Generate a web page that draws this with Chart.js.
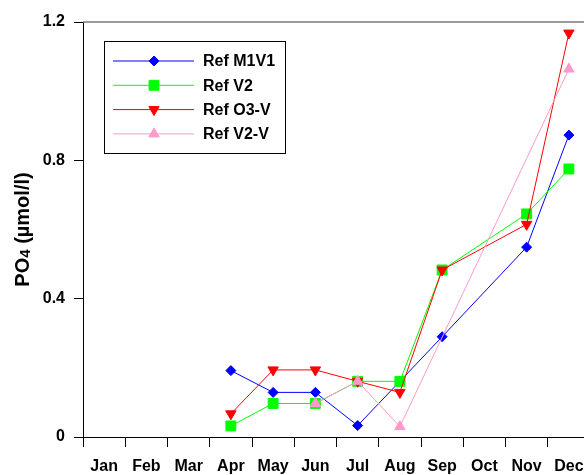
<!DOCTYPE html>
<html>
<head>
<meta charset="utf-8">
<script src="https://cdn.jsdelivr.net/npm/chart.js@4/dist/chart.umd.min.js"></script>
<style>
  html, body { margin: 0; padding: 0; background: #fff; }
  #wrap { width: 584px; height: 475px; overflow: hidden; position: relative; }
  canvas { display: block; }
</style>
</head>
<body>
<div id="wrap"><canvas id="po4Chart" width="600" height="475"></canvas></div>
<script>
// Datos del grafico
const months = ['Jan', 'Feb', 'Mar', 'Apr', 'May', 'Jun', 'Jul', 'Aug', 'Sep', 'Oct', 'Nov', 'Dec'];
const refM1V1 = [null, null, null, 0.192, 0.129, 0.129, 0.033, 0.161, 0.290, null, 0.549, 0.873];
const refV2   = [null, null, null, 0.032, 0.097, 0.097, 0.161, 0.161, 0.483, null, 0.645, 0.775];
const refO3V  = [null, null, null, 0.067, 0.194, 0.194, 0.161, 0.129, 0.483, null, 0.615, 1.168];
const refV2V  = [null, null, null, null, null, 0.097, 0.161, 0.030, null, null, null, 1.064];
const yTicks = [0, 0.4, 0.8, 1.2];
const yTitleMain = 'PO';
const yTitleSub = '4';
const yTitleRest = ' (µmol/l)';

const FONT = '"Liberation Sans", Arial, sans-serif';

function serie(label, data, color, style, radius, rotation, order) {
    return {
        label: label,
        data: data,
        borderColor: color,
        backgroundColor: color,
        borderWidth: 1,
        pointStyle: style,
        pointRadius: radius,
        pointHoverRadius: radius,
        pointRotation: rotation,
        pointBorderWidth: 1,
        spanGaps: true,
        tension: 0,
        order: order
    };
}

// Leyenda dibujada a mano (linea + marcador)
const legendBox = {
    id: 'legendBox',
    afterDraw(chart) {
        const ctx = chart.ctx;
        const list = chart.data.datasets;
        ctx.save();
        ctx.strokeStyle = '#000';
        ctx.lineWidth = 1;
        ctx.strokeRect(104.5, 41.5, 181, 112);
        list.forEach((ds, i) => {
            const y = 61 + i * 24.3;
            ctx.strokeStyle = ds.borderColor;
            ctx.lineWidth = 1;
            ctx.beginPath();
            ctx.moveTo(113, y);
            ctx.lineTo(194, y);
            ctx.stroke();
            ctx.fillStyle = ds.backgroundColor;
            Chart.helpers.drawPoint(ctx, {
                pointStyle: ds.pointStyle,
                rotation: ds.pointRotation,
                radius: ds.pointRadius,
                borderWidth: 1
            }, 154, y);
            ctx.fillStyle = '#000';
            ctx.font = 'bold 16px ' + FONT;
            ctx.textBaseline = 'middle';
            ctx.textAlign = 'left';
            ctx.fillText(ds.label, 203, y + 1);
        });
        ctx.restore();
    }
};

// Marco superior y titulo del eje Y con subindice
const frameAndTitle = {
    id: 'frameAndTitle',
    afterDraw(chart) {
        const ctx = chart.ctx;
        const a = chart.chartArea;
        ctx.save();
        ctx.strokeStyle = '#7a7a7a';
        ctx.lineWidth = 1.5;
        ctx.beginPath();
        ctx.moveTo(a.left, a.top);
        ctx.lineTo(a.right, a.top);
        ctx.stroke();

        const cy = (a.top + a.bottom) / 2;
        ctx.translate(23, cy);
        ctx.rotate(-Math.PI / 2);
        ctx.fillStyle = '#000';
        ctx.textBaseline = 'middle';
        ctx.textAlign = 'left';
        const fMain = 'bold 20px ' + FONT;
        const fSub = 'bold 15px ' + FONT;
        ctx.font = fMain;
        const w1 = ctx.measureText(yTitleMain).width;
        const w3 = ctx.measureText(yTitleRest).width;
        ctx.font = fSub;
        const w2 = ctx.measureText(yTitleSub).width;
        let x = -(w1 + w2 + w3) / 2;
        ctx.font = fMain;
        ctx.fillText(yTitleMain, x, 0);
        x += w1;
        ctx.font = fSub;
        ctx.fillText(yTitleSub, x, 3);
        x += w2;
        ctx.font = fMain;
        ctx.fillText(yTitleRest, x, 0);
        ctx.restore();
    }
};

new Chart(document.getElementById('po4Chart').getContext('2d'), {
    type: 'line',
    data: {
        labels: months,
        datasets: [
            serie('Ref M1V1', refM1V1, '#0000ff', 'rectRot', 5, 0, 4),
            serie('Ref V2', refV2, '#00ff00', 'rect', 7, 0, 3),
            serie('Ref O3-V', refO3V, '#ff0000', 'triangle', 6, 180, 2),
            serie('Ref V2-V', refV2V, '#ff99cc', 'triangle', 6, 0, 1)
        ]
    },
    options: {
        responsive: false,
        animation: false,
        layout: { padding: { top: 22, right: 10, left: 0, bottom: 0 } },
        plugins: {
            legend: { display: false },
            tooltip: { enabled: false }
        },
        scales: {
            x: {
                type: 'category',
                offset: true,
                grid: {
                    offset: true,
                    drawOnChartArea: false,
                    drawTicks: true,
                    tickLength: 10,
                    color: '#000'
                },
                border: { color: '#000', width: 1 },
                ticks: {
                    color: '#000',
                    padding: 10,
                    maxRotation: 0,
                    autoSkip: false,
                    font: { family: FONT, size: 16, weight: 'bold' }
                },
                afterFit(scale) { scale.height = 38; }
            },
            y: {
                min: 0,
                max: 1.2,
                afterBuildTicks(scale) { scale.ticks = yTicks.map(v => ({ value: v })); },
                grid: {
                    drawOnChartArea: false,
                    drawTicks: true,
                    tickLength: 9,
                    color: '#000'
                },
                border: { color: '#000', width: 1 },
                ticks: {
                    color: '#000',
                    padding: 9,
                    font: { family: FONT, size: 16, weight: 'bold' },
                    callback: v => String(Math.round(v * 10) / 10)
                },
                afterFit(scale) { scale.width = 83; }
            }
        }
    },
    plugins: [legendBox, frameAndTitle]
});
</script>
</body>
</html>
